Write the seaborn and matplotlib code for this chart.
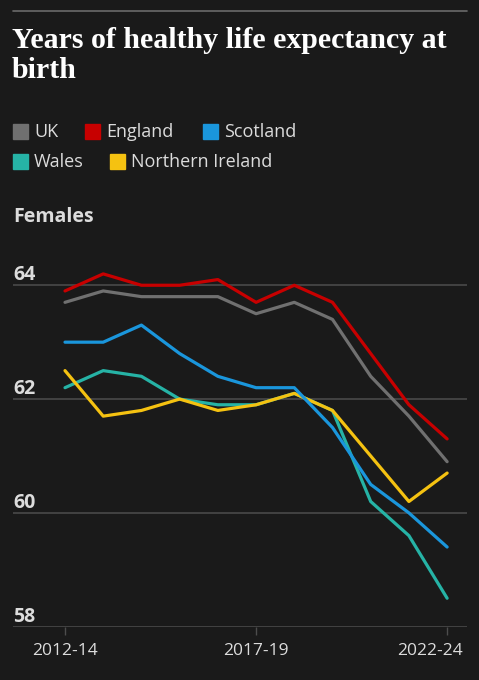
import pandas as pd
import matplotlib
matplotlib.use("Agg")
import matplotlib.pyplot as plt
import matplotlib.patches as mpatches
import matplotlib.transforms as mtransforms
import seaborn as sns

# ── data ──────────────────────────────────────────────────────────
periods = ["2012-14", "2013-15", "2014-16", "2015-17", "2016-18", "2017-19",
           "2018-20", "2019-21", "2020-22", "2021-23", "2022-24"]
uk = [63.7, 63.9, 63.8, 63.8, 63.8, 63.5, 63.7, 63.4, 62.4, 61.7, 60.9]
england = [63.9, 64.2, 64.0, 64.0, 64.1, 63.7, 64.0, 63.7, 62.8, 61.9, 61.3]
scotland = [63.0, 63.0, 63.3, 62.8, 62.4, 62.2, 62.2, 61.5, 60.5, 60.0, 59.4]
wales = [62.2, 62.5, 62.4, 62.0, 61.9, 61.9, 62.1, 61.8, 60.2, 59.6, 58.5]
n_ireland = [62.5, 61.7, 61.8, 62.0, 61.8, 61.9, 62.1, 61.8, 61.0, 60.2, 60.7]

nations = ["UK", "England", "Scotland", "Wales", "Northern Ireland"]
draw_order = ["UK", "England", "Wales", "Northern Ireland", "Scotland"]
y_ticks = [58, 60, 62, 64]
x_ticks = ["2012-14", "2017-19", "2022-24"]

COLORS = {"UK": "#707070", "England": "#c70000", "Scotland": "#1a96dc",
          "Wales": "#26b3a6", "Northern Ireland": "#f5c211"}
BG = "#1a1a1a"
TXT = "#dcdcdc"
GRID = "#4d4d4d"

df = pd.DataFrame({"period": periods * 5,
                   "idx": list(range(len(periods))) * 5,
                   "nation": sum([[n] * len(periods) for n in nations], []),
                   "value": uk + england + scotland + wales + n_ireland})

sns.set_theme(style="dark")
plt.rcParams["font.family"] = ["Open Sans", "DejaVu Sans"]

W, H = 479, 680
fig = plt.figure(figsize=(W / 100, H / 100), dpi=100, facecolor=BG)

def fx(px):
    return px / W

def fy(py):
    return 1 - py / H

# top rule
fig.add_artist(plt.Line2D([fx(13), fx(467)], [fy(11), fy(11)], color="#6a6a6a", lw=1.2))

fig.text(fx(12), fy(27), "Years of healthy life expectancy at\nbirth", color="white",
         fontsize=21.5, fontweight="bold", family=["Liberation Serif", "DejaVu Serif"],
         va="top", linespacing=1.13)

# legend, laid out in two rows like the original
legend_rows = [[("UK", 13), ("England", 85), ("Scotland", 203)],
               [("Wales", 13), ("Northern Ireland", 110)]]
row_y = [124, 154]
for row, ytop in zip(legend_rows, row_y):
    for name, x0 in row:
        fig.add_artist(mpatches.Rectangle((fx(x0), fy(ytop + 15)), fx(15), 15 / H,
                                          color=COLORS[name], transform=fig.transFigure))
        fig.text(fx(x0 + 21), fy(ytop + 8), name, color=TXT, fontsize=13, va="center")

fig.text(fx(13), fy(222), "Females", color=TXT, fontsize=14, fontweight="bold", va="baseline")

# ── chart ─────────────────────────────────────────────────────────
ax = fig.add_axes([fx(13), fy(626.7), fx(454), (626.7 - 262.5) / H])
ax.set_facecolor(BG)
for name in draw_order:
    sns.lineplot(data=df[df["nation"] == name], x="idx", y="value", color=COLORS[name],
                 lw=2.3, ax=ax, legend=False)

ax.set_xlim(-1.361, 10.52)
ax.set_ylim(58, 64.4)
for s in ax.spines.values():
    s.set_visible(False)
ax.set_yticks(y_ticks)
ax.set_yticklabels([])
ax.grid(False)
for v in y_ticks:
    ax.axhline(v, color=GRID, lw=1.1, zorder=0)
trans = mtransforms.blended_transform_factory(ax.transAxes, ax.transData)
for v in y_ticks:
    ax.text(0, v, str(v), transform=trans, color=TXT, fontsize=14, fontweight="bold",
            va="bottom", ha="left")
ax.tick_params(axis="y", length=0)

ax.set_xticks([periods.index(p) for p in x_ticks])
ax.set_xticklabels(x_ticks, color=TXT, fontsize=12.5)
ax.tick_params(axis="x", length=6, width=1, color=GRID, pad=6, bottom=True)
# last label sits inside the right edge, as in the original
last = ax.get_xticklabels()[-1]
last.set_transform(last.get_transform() + mtransforms.ScaledTranslation(-17 / 100, 0, fig.dpi_scale_trans))
ax.set_xlabel("")
ax.set_ylabel("")

fig.savefig("out.png", dpi=100, facecolor=BG)
